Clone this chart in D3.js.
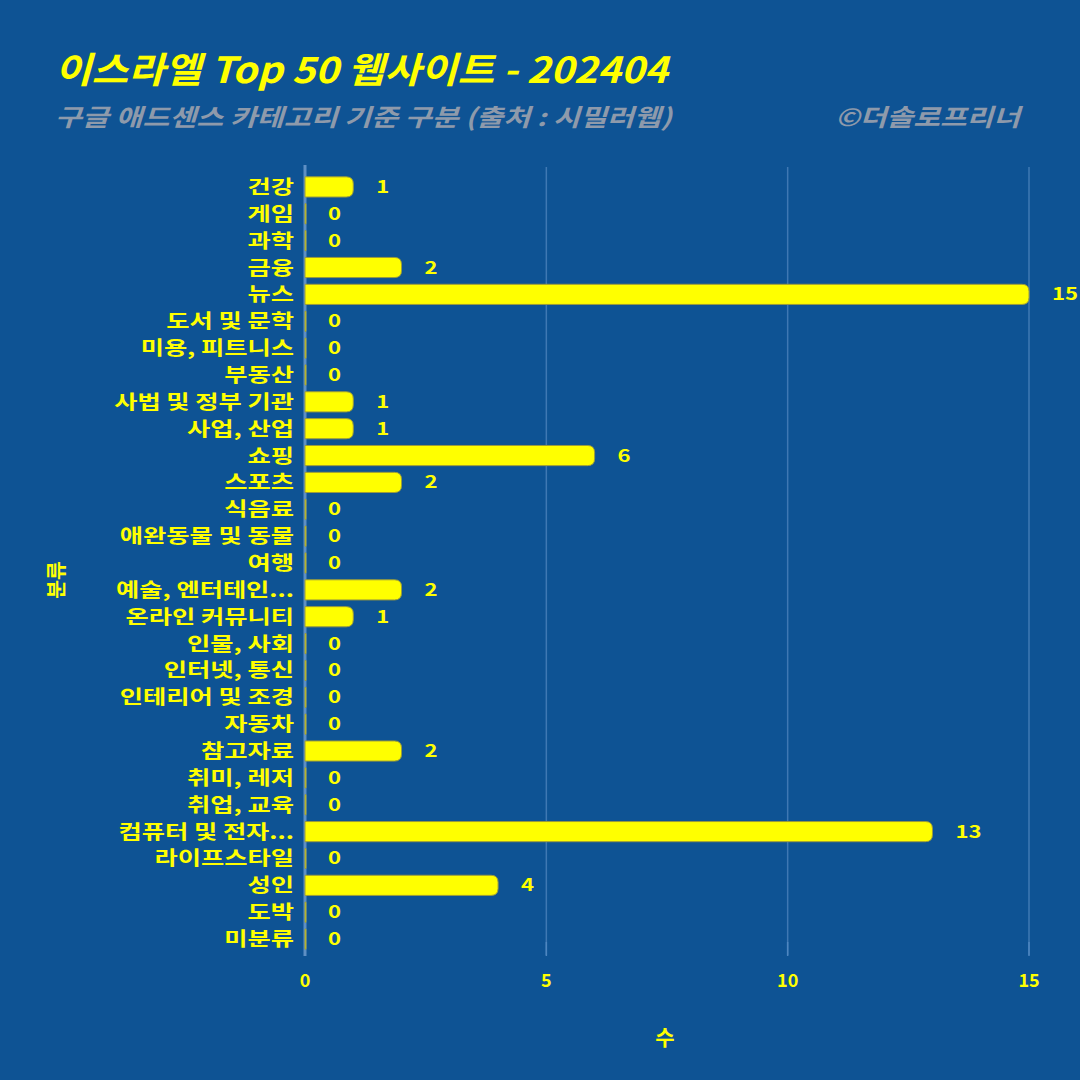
<!DOCTYPE html>
<html><head><meta charset="utf-8">
<script src="https://cdn.jsdelivr.net/npm/d3@7"></script>
<style>
html,body{margin:0;padding:0;background:#0e5394;}
svg{display:block;}
text{font-family:"Noto Sans CJK KR","Noto Sans",sans-serif;}
</style></head><body>
<script>
const categories = ["건강","게임","과학","금융","뉴스","도서 및 문학","미용, 피트니스","부동산","사법 및 정부 기관","사업, 산업","쇼핑","스포츠","식음료","애완동물 및 동물","여행","예술, 엔터테인...","온라인 커뮤니티","인물, 사회","인터넷, 통신","인테리어 및 조경","자동차","참고자료","취미, 레저","취업, 교육","컴퓨터 및 전자...","라이프스타일","성인","도박","미분류"];
const values = [1,0,0,2,15,0,0,0,1,1,6,2,0,0,0,2,1,0,0,0,0,2,0,0,13,0,4,0,0];
const xTicks = [0,5,10,15];
const titleText = "이스라엘 Top 50 웹사이트 - 202404";
const subtitleText = "구글 애드센스 카테고리 기준 구분 (출처 : 시밀러웹)";
const creditText = "©더솔로프리너";
const xTitle = "수";
const yTitle = "분류";

const W=1080,H=1080;
const bg="#0e5394", yellow="#ffff00", gray="#8e9aab";
const svg=d3.select("body").append("svg").attr("width",W).attr("height",H);
svg.append("rect").attr("width",W).attr("height",H).attr("fill",bg);

const x=d3.scaleLinear().domain([0,15]).range([305,1029]);
const y=d3.scaleBand().domain(categories).range([173.5,952.5]).paddingInner(0.25).paddingOuter(0.125);

// gridlines
svg.append("g").selectAll("line").data(xTicks.filter(d=>d>0)).join("line")
  .attr("x1",d=>x(d)).attr("x2",d=>x(d)).attr("y1",167).attr("y2",955)
  .attr("stroke","#3f78b3").attr("stroke-width",1.5);
// tick marks
svg.append("g").selectAll("line").data(xTicks).join("line")
  .attr("x1",d=>x(d)).attr("x2",d=>x(d)).attr("y1",942).attr("y2",956)
  .attr("stroke","#4e86c0").attr("stroke-width",1.5);

// bars
const r=7;
function barPath(d,i){
  const c=categories[i];
  const x0=x(0), x1=x(d), y0=y(c), h=y.bandwidth();
  if(d===0) return `M${x0},${y0}L${x0+1},${y0}L${x0+1},${y0+h}L${x0},${y0+h}Z`;
  const rr=Math.min(r,(x1-x0)/2,h/2);
  return `M${x0},${y0}L${x1-rr},${y0}Q${x1},${y0} ${x1},${y0+rr}L${x1},${y0+h-rr}Q${x1},${y0+h} ${x1-rr},${y0+h}L${x0},${y0+h}Z`;
}
// axis line
svg.append("line").attr("x1",x(0)).attr("x2",x(0)).attr("y1",165).attr("y2",956)
  .attr("stroke","#5e8fc4").attr("stroke-width",3);
svg.append("g").selectAll("path").data(values).join("path")
  .attr("d",barPath).attr("fill",yellow).attr("stroke","#9b9b3c").attr("stroke-width",1);

// value labels
svg.append("g").selectAll("text").data(values).join("text")
  .attr("transform",(d,i)=>`translate(${x(d)+23},${y(categories[i])+y.bandwidth()/2+6}) scale(1.3,1)`)
  .attr("text-anchor","start").attr("fill",yellow).attr("font-weight",700).attr("font-size",17)
  .text(d=>d);

// y labels
svg.append("g").selectAll("text").data(categories).join("text")
  .attr("transform",d=>`translate(294,${y(d)+y.bandwidth()/2+7}) scale(1.33,1)`)
  .attr("text-anchor","end").attr("fill",yellow).attr("font-weight",700).attr("font-size",19)
  .text(d=>d);

// x tick labels
svg.append("g").selectAll("text").data(xTicks).join("text")
  .attr("x",d=>x(d)).attr("y",987).attr("text-anchor","middle")
  .attr("fill",yellow).attr("font-weight",700).attr("font-size",18).text(d=>d);

svg.append("text").attr("x",665).attr("y",1045).attr("text-anchor","middle")
  .attr("fill",yellow).attr("font-weight",700).attr("font-size",21).text(xTitle);
svg.append("text").attr("transform","translate(64,580) rotate(-90) scale(1.2,1.2)").attr("text-anchor","middle")
  .attr("fill",yellow).attr("font-weight",700).attr("font-size",17).text(yTitle);

svg.append("text").attr("transform","translate(55,83) scale(1.106,1)").attr("fill",yellow).attr("font-weight",700)
  .attr("font-style","italic").attr("font-size",36).text(titleText);
svg.append("text").attr("transform","translate(55,126) scale(1.22,1)").attr("fill",gray).attr("font-weight",700)
  .attr("font-style","italic").attr("font-size",24).text(subtitleText);
svg.append("text").attr("transform","translate(1020,126) scale(1.21,1)").attr("text-anchor","end").attr("fill",gray).attr("font-weight",700)
  .attr("font-style","italic").attr("font-size",24).text(creditText);
</script></body></html>
